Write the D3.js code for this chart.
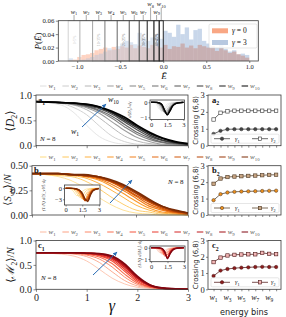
<!DOCTYPE html>
<html>
<head>
<meta charset="utf-8">
<script src="https://cdn.jsdelivr.net/npm/d3@7"></script>
<style>
  body { margin: 0; background: #fff; }
</style>
</head>
<body>
<svg id="fig" width="286" height="317"></svg>
<script>
// ---- data ----
var energyEdges = [-1.10,-1.05,-1.00,-0.95,-0.90,-0.85,-0.80,-0.75,-0.70,-0.65,-0.60,-0.55,-0.50,-0.45,-0.40,-0.35,-0.30,-0.25,-0.20,-0.15,-0.10,-0.05,0.00,0.05,0.10,0.15,0.20,0.25,0.30,0.35,0.40,0.45,0.50,0.55,0.60,0.65,0.70,0.75,0.80,0.85,0.90,0.95,1.00];
var histGamma0 = [0.001,0.002,0.006,0.009,0.010,0.012,0.016,0.018,0.020,0.016,0.021,0.018,0.022,0.020,0.024,0.019,0.023,0.021,0.019,0.024,0.022,0.020,0.024,0.018,0.022,0.021,0.026,0.020,0.023,0.019,0.024,0.022,0.020,0.022,0.015,0.019,0.016,0.012,0.014,0.010,0.008,0.005];
var histGamma3 = [0.004,0.000,0.001,0.002,0.004,0.006,0.009,0.011,0.014,0.019,0.017,0.022,0.026,0.030,0.028,0.025,0.042,0.033,0.030,0.035,0.040,0.033,0.045,0.042,0.036,0.054,0.040,0.050,0.032,0.046,0.048,0.030,0.026,0.021,0.020,0.024,0.018,0.014,0.016,0.010,0.011,0.009];
var windowEdges = [-1.105,-0.969,-0.821,-0.678,-0.535,-0.395,-0.279,-0.186,-0.108,-0.047,0.0];
var windowPct = ["0-5%","","10-15%","","20-25%","","30-35%","","40-45%",""];
var binNames = ["1","2","3","4","5","6","7","8","9","10"];

var gammaGrid = [0,0.5,0.75,1,1.25,1.5,1.75,2,2.25,2.5,2.75,3];
var insetGrid = [0,0.25,0.5,0.75,1,1.25,1.5,1.75,2,2.25,2.5,3];

var D2 = [
  [0.87,0.80,0.65,0.40,0.18,0.07,0.03,0.02,0.01,0.01,0.00,0.00],
  [0.87,0.83,0.75,0.61,0.39,0.19,0.08,0.03,0.02,0.01,0.01,0.00],
  [0.87,0.84,0.80,0.71,0.55,0.36,0.19,0.09,0.04,0.02,0.01,0.00],
  [0.87,0.85,0.81,0.75,0.64,0.47,0.30,0.16,0.08,0.03,0.02,0.01],
  [0.87,0.85,0.82,0.77,0.68,0.54,0.37,0.22,0.12,0.06,0.03,0.01],
  [0.87,0.85,0.83,0.78,0.70,0.58,0.42,0.26,0.15,0.07,0.04,0.02],
  [0.87,0.85,0.83,0.79,0.73,0.62,0.47,0.31,0.18,0.10,0.05,0.02],
  [0.87,0.85,0.84,0.81,0.75,0.65,0.50,0.35,0.21,0.11,0.06,0.03],
  [0.87,0.85,0.84,0.81,0.76,0.66,0.53,0.38,0.24,0.14,0.07,0.04],
  [0.87,0.85,0.84,0.82,0.77,0.68,0.56,0.40,0.26,0.15,0.08,0.04]
];
var SvN = [
  [0.42,0.39,0.35,0.28,0.19,0.11,0.05,0.02,0.01,0.00,0.00,0.00],
  [0.42,0.40,0.39,0.35,0.28,0.19,0.11,0.05,0.03,0.01,0.01,0.00],
  [0.42,0.41,0.40,0.38,0.33,0.26,0.18,0.10,0.05,0.02,0.01,0.00],
  [0.42,0.42,0.41,0.39,0.36,0.30,0.22,0.14,0.07,0.03,0.02,0.01],
  [0.42,0.42,0.41,0.40,0.37,0.32,0.25,0.17,0.09,0.05,0.02,0.01],
  [0.42,0.42,0.41,0.40,0.38,0.34,0.27,0.19,0.11,0.06,0.03,0.01],
  [0.42,0.42,0.41,0.40,0.38,0.34,0.28,0.20,0.13,0.07,0.03,0.02],
  [0.42,0.42,0.41,0.40,0.39,0.35,0.29,0.22,0.14,0.08,0.04,0.02],
  [0.42,0.42,0.41,0.40,0.39,0.35,0.30,0.23,0.15,0.09,0.04,0.02],
  [0.42,0.42,0.41,0.41,0.39,0.36,0.31,0.24,0.16,0.09,0.05,0.02]
];
var M2 = [
  [0.75,0.72,0.68,0.58,0.41,0.23,0.11,0.04,0.02,0.01,0.00,0.00],
  [0.75,0.74,0.72,0.67,0.55,0.36,0.18,0.07,0.03,0.01,0.00,0.00],
  [0.75,0.75,0.73,0.70,0.62,0.46,0.25,0.10,0.04,0.01,0.00,0.00],
  [0.75,0.75,0.74,0.72,0.66,0.53,0.31,0.13,0.05,0.02,0.01,0.00],
  [0.75,0.75,0.75,0.73,0.69,0.58,0.37,0.16,0.05,0.02,0.01,0.00],
  [0.75,0.75,0.75,0.73,0.70,0.61,0.41,0.19,0.07,0.02,0.01,0.00],
  [0.75,0.75,0.75,0.74,0.72,0.64,0.45,0.22,0.07,0.02,0.01,0.00],
  [0.75,0.75,0.75,0.74,0.72,0.65,0.48,0.24,0.09,0.02,0.01,0.00],
  [0.75,0.75,0.75,0.74,0.73,0.67,0.50,0.25,0.08,0.02,0.01,0.00],
  [0.75,0.75,0.75,0.74,0.73,0.68,0.52,0.27,0.09,0.03,0.01,0.00]
];
var dD2 = [
  [0,-0.02,-0.15,-0.45,-0.52,-0.30,-0.12,-0.05,-0.02,-0.01,0,0],
  [0,-0.01,-0.08,-0.30,-0.60,-0.50,-0.25,-0.10,-0.04,-0.02,-0.01,0],
  [0,0,-0.04,-0.18,-0.48,-0.66,-0.45,-0.20,-0.08,-0.03,-0.01,0],
  [0,0,-0.03,-0.12,-0.38,-0.70,-0.58,-0.30,-0.12,-0.05,-0.02,0],
  [0,0,-0.02,-0.09,-0.30,-0.68,-0.66,-0.36,-0.15,-0.06,-0.02,0],
  [0,0,-0.02,-0.07,-0.25,-0.64,-0.73,-0.42,-0.18,-0.07,-0.03,0],
  [0,0,-0.01,-0.06,-0.21,-0.60,-0.78,-0.47,-0.20,-0.08,-0.03,-0.01],
  [0,0,-0.01,-0.05,-0.18,-0.56,-0.82,-0.52,-0.22,-0.09,-0.04,-0.01],
  [0,0,-0.01,-0.04,-0.16,-0.53,-0.84,-0.56,-0.24,-0.10,-0.04,-0.01],
  [0,0,-0.01,-0.04,-0.14,-0.50,-0.85,-0.60,-0.26,-0.11,-0.05,-0.01]
];
var dSvN = [
  [0,-0.05,-0.30,-1.00,-2.00,-1.90,-0.90,-0.35,-0.12,-0.05,-0.02,0],
  [0,-0.02,-0.12,-0.45,-1.30,-2.40,-2.10,-1.00,-0.40,-0.15,-0.05,0],
  [0,0,-0.06,-0.25,-0.75,-1.80,-2.90,-2.00,-0.90,-0.35,-0.12,0],
  [0,0,-0.04,-0.15,-0.50,-1.30,-2.70,-3.10,-1.50,-0.60,-0.20,-0.02],
  [0,0,-0.03,-0.12,-0.38,-1.00,-2.30,-3.40,-2.00,-0.80,-0.30,-0.03],
  [0,0,-0.02,-0.10,-0.30,-0.85,-2.00,-3.50,-2.40,-1.00,-0.35,-0.04],
  [0,0,-0.02,-0.08,-0.25,-0.72,-1.75,-3.40,-2.80,-1.20,-0.40,-0.05],
  [0,0,-0.02,-0.07,-0.22,-0.62,-1.55,-3.20,-3.10,-1.40,-0.50,-0.05],
  [0,0,-0.01,-0.06,-0.20,-0.55,-1.40,-3.00,-3.40,-1.60,-0.55,-0.06],
  [0,0,-0.01,-0.05,-0.18,-0.50,-1.30,-2.90,-3.60,-1.80,-0.60,-0.07]
];
var dM2 = [
  [0,-0.02,-0.12,-0.42,-0.45,-0.25,-0.10,-0.04,-0.01,0,0,0],
  [0,-0.01,-0.06,-0.25,-0.58,-0.40,-0.18,-0.07,-0.03,-0.01,0,0],
  [0,0,-0.03,-0.13,-0.45,-0.62,-0.30,-0.12,-0.05,-0.02,0,0],
  [0,0,-0.02,-0.08,-0.30,-0.75,-0.45,-0.18,-0.07,-0.03,-0.01,0],
  [0,0,-0.01,-0.05,-0.20,-0.68,-0.62,-0.25,-0.10,-0.04,-0.01,0],
  [0,0,-0.01,-0.04,-0.15,-0.58,-0.78,-0.32,-0.12,-0.05,-0.02,0],
  [0,0,0,-0.03,-0.12,-0.50,-0.87,-0.38,-0.14,-0.05,-0.02,0],
  [0,0,0,-0.02,-0.10,-0.44,-0.92,-0.43,-0.16,-0.06,-0.02,0],
  [0,0,0,-0.02,-0.08,-0.38,-0.95,-0.48,-0.18,-0.07,-0.02,0],
  [0,0,0,-0.01,-0.07,-0.33,-0.98,-0.52,-0.20,-0.08,-0.03,0]
];

var crossA_g1 = [0.70,0.88,0.97,0.98,0.98,0.98,0.98,0.98,0.98,0.98];
var crossA_g2 = [1.55,1.95,2.03,2.07,2.07,2.07,2.07,2.07,2.07,2.07];
var crossB_g1 = [0.90,1.27,1.37,1.41,1.43,1.44,1.45,1.46,1.47,1.48];
var crossB_g2 = [1.90,2.22,2.31,2.34,2.36,2.38,2.40,2.42,2.44,2.45];
var crossC_g1 = [0.82,1.15,1.25,1.30,1.33,1.35,1.37,1.38,1.37,1.37];
var crossC_g2 = [1.67,1.95,2.08,2.12,2.14,2.15,2.15,2.24,2.18,2.16];

// ---- helpers ----
var svg = d3.select("#fig");
var serif = '"Liberation Serif", "DejaVu Serif", serif';
var sans = '"DejaVu Sans", "Liberation Sans", sans-serif';

var greyAt = function (i) { return d3.interpolateGreys(0.22 + 0.78 * i / 9); };
var orangeAt = function (i) { return d3.interpolateYlOrBr(0.28 + 0.67 * i / 9); };
var redAt = function (i) { return d3.interpolateReds(0.25 + 0.7 * i / 9); };

// text with italic / subscript parts: parts = [[txt, flags]], flags: i italic, b bold, _ subscript
function rich(g, x, y, parts, fs, fam) {
  var t = g.append("text").attr("x", x).attr("y", y)
    .attr("font-size", fs).attr("font-family", fam || serif).attr("fill", "#111");
  var shift = 0;
  parts.forEach(function (p) {
    var f = p[1] || "";
    var ts = t.append("tspan").text(p[0]);
    if (f.indexOf("i") >= 0) ts.attr("font-style", "italic");
    if (f.indexOf("b") >= 0) ts.attr("font-weight", "bold");
    var want = 0;
    if (f.indexOf("_") >= 0) { want = fs * 0.3; ts.attr("font-size", fs * 0.68); }
    ts.attr("dy", want - shift);
    shift = want;
  });
  return t;
}

function frame(g, x0, y0, x1, y1) {
  g.append("rect").attr("x", x0).attr("y", y0).attr("width", x1 - x0).attr("height", y1 - y0)
    .attr("fill", "none").attr("stroke", "#3a3a3a").attr("stroke-width", 0.8);
}

function tidy(ax, fs) {
  ax.select(".domain").remove();
  ax.selectAll(".tick line").attr("stroke", "#3a3a3a").attr("stroke-width", 0.6);
  ax.selectAll(".tick text").attr("font-family", serif).attr("font-size", fs).attr("fill", "#222");
}

var defs = svg.append("defs");
defs.append("marker").attr("id", "arr").attr("viewBox", "0 0 10 10")
  .attr("refX", 8).attr("refY", 5).attr("markerWidth", 5).attr("markerHeight", 5)
  .attr("orient", "auto")
  .append("path").attr("d", "M0,1 L9,5 L0,9 z").attr("fill", "#2a6db5");

// ---- histogram ----
var xH = d3.scaleLinear().domain([-1.22, 1.105]).range([58.3, 258.3]);
var yH = d3.scaleLinear().domain([0, 0.06]).range([61, 20.7]);
var gH = svg.append("g");

gH.selectAll("rect.g0").data(histGamma0).enter().append("rect")
  .attr("x", function (d, i) { return xH(energyEdges[i]); })
  .attr("width", function (d, i) { return xH(energyEdges[i + 1]) - xH(energyEdges[i]); })
  .attr("y", function (d) { return yH(d); })
  .attr("height", function (d) { return yH(0) - yH(d); })
  .attr("fill", "#fb8f62").attr("fill-opacity", 0.6);
gH.selectAll("rect.g3").data(histGamma3).enter().append("rect")
  .attr("x", function (d, i) { return xH(energyEdges[i]); })
  .attr("width", function (d, i) { return xH(energyEdges[i + 1]) - xH(energyEdges[i]); })
  .attr("y", function (d) { return yH(d); })
  .attr("height", function (d) { return yH(0) - yH(d); })
  .attr("fill", "#7f9fcc").attr("fill-opacity", 0.42);

// energy windows
windowEdges.slice(0, -1).forEach(function (e, i) {
  var xa = xH(e), xb = xH(windowEdges[i + 1]);
  var c = d3.interpolateGreys(0.3 + 0.65 * i / 9);
  gH.append("rect").attr("x", xa).attr("y", yH(0.06)).attr("width", xb - xa).attr("height", yH(0) - yH(0.06))
    .attr("fill", "#fff").attr("fill-opacity", 0.35).attr("stroke", c).attr("stroke-width", 0.9);
  var cx = (xa + xb) / 2;
  if (windowPct[i]) {
    gH.append("text").attr("transform", "translate(" + (cx + 1.5) + ",40) rotate(-90)")
      .attr("text-anchor", "middle").attr("font-family", serif).attr("font-size", 4)
      .attr("fill", c).text(windowPct[i]);
  }
  var high = (i === 7 || i === 9);
  var ly = high ? 6 : 13.5;
  gH.append("line").attr("x1", cx).attr("x2", cx).attr("y1", ly + 1.5).attr("y2", yH(0.06))
    .attr("stroke", "#555").attr("stroke-width", 0.5);
  rich(gH, cx, ly, [["w", "i"], [binNames[i], "_"]], 6.5).attr("text-anchor", "middle");
});

frame(gH, 58.3, 20.7, 258.3, 61);
var axHx = gH.append("g").attr("transform", "translate(0,61)")
  .call(d3.axisBottom(xH).tickValues([-1, -0.5, 0, 0.5, 1]).tickFormat(d3.format(".1f")).tickSize(2).tickPadding(1));
tidy(axHx, 6.5);
var axHy = gH.append("g").attr("transform", "translate(58.3,0)")
  .call(d3.axisLeft(yH).tickValues([0, 0.02, 0.04, 0.06]).tickFormat(d3.format(".2f")).tickSize(2.5).tickPadding(1.5));
tidy(axHy, 6.8);
rich(gH, 164, 78.5, [["Ē", "i"]], 9).attr("text-anchor", "middle");
rich(gH, 0, 0, [["P", "i"], ["(", ""], ["Ē", "i"], [")", ""]], 9)
  .attr("transform", "translate(41,41) rotate(-90)").attr("text-anchor", "middle");

// histogram legend
gH.append("rect").attr("x", 209).attr("y", 24).attr("width", 48).attr("height", 24).attr("rx", 1.5)
  .attr("fill", "#fff").attr("fill-opacity", 0.85).attr("stroke", "#ccc").attr("stroke-width", 0.5);
gH.append("rect").attr("x", 212).attr("y", 28.3).attr("width", 16).attr("height", 5).attr("fill", "#f9a784");
gH.append("rect").attr("x", 212).attr("y", 40).attr("width", 16).attr("height", 5).attr("fill", "#b7c8e0");
rich(gH, 232, 33.2, [["γ", "i"], [" = 0", ""]], 7.5);
rich(gH, 232, 45, [["γ", "i"], [" = 3", ""]], 7.5);

// ---- legend rows ----
function legendRow(y, colorFn) {
  var g = svg.append("g");
  binNames.forEach(function (b, i) {
    var x = 40 + i * 22.4;
    g.append("line").attr("x1", x).attr("x2", x + 6.5).attr("y1", y - 2).attr("y2", y - 2)
      .attr("stroke", colorFn(i)).attr("stroke-width", 1);
    rich(g, x + 8.5, y, [["w", "i"], [b, "_"]], 7).attr("fill", "#555");
  });
}
legendRow(88, greyAt);
legendRow(159, orangeAt);
legendRow(234, redAt);

// ---- left panels ----
function mainPanel(cfg) {
  var g = svg.append("g");
  var x = d3.scaleLinear().domain([0, 3]).range([cfg.x0, cfg.x1]);
  var y = d3.scaleLinear().domain(cfg.yDomain).range([cfg.y1, cfg.y0]);
  var line = d3.line()
    .x(function (d, i) { return x(gammaGrid[i]); })
    .y(function (d) { return y(d); })
    .curve(d3.curveMonotoneX);
  cfg.series.forEach(function (s, i) {
    g.append("path").attr("d", line(s)).attr("fill", "none")
      .attr("stroke", cfg.color(i)).attr("stroke-width", 0.8 + 0.09 * i);
  });
  frame(g, cfg.x0, cfg.y0, cfg.x1, cfg.y1);
  var ax = g.append("g").attr("transform", "translate(0," + cfg.y1 + ")")
    .call(d3.axisBottom(x).tickValues([0, 1, 2, 3]).tickFormat(d3.format("d")).tickSize(2.5).tickPadding(2));
  tidy(ax, 10);
  if (!cfg.xLabels) ax.selectAll(".tick text").remove();
  var ay = g.append("g").attr("transform", "translate(" + cfg.x0 + ",0)")
    .call(d3.axisLeft(y).tickValues(cfg.yTicks).tickFormat(d3.format(cfg.yFmt)).tickSize(2.5).tickPadding(1.5));
  tidy(ay, 10);
  return { g: g, x: x, y: y };
}

function inset(cfg) {
  var g = svg.append("g");
  var x = d3.scaleLinear().domain([-0.1, 3.1]).range([cfg.x0, cfg.x1]);
  var y = d3.scaleLinear().domain(cfg.yDomain).range([cfg.y1, cfg.y0]);
  g.append("rect").attr("x", cfg.x0).attr("y", cfg.y0).attr("width", cfg.x1 - cfg.x0)
    .attr("height", cfg.y1 - cfg.y0).attr("fill", "#fff");
  var line = d3.line()
    .x(function (d, i) { return x(insetGrid[i]); })
    .y(function (d) { return y(d); })
    .curve(d3.curveMonotoneX);
  cfg.series.forEach(function (s, i) {
    g.append("path").attr("d", line(s)).attr("fill", "none")
      .attr("stroke", cfg.color(i)).attr("stroke-width", 0.6 + 0.07 * i);
  });
  frame(g, cfg.x0, cfg.y0, cfg.x1, cfg.y1);
  var ax = g.append("g").attr("transform", "translate(0," + cfg.y1 + ")")
    .call(d3.axisBottom(x).tickValues([0, 1.5, 3]).tickFormat(d3.format("~g")).tickSize(1.5).tickPadding(1));
  tidy(ax, 6.5);
  var ay = g.append("g").attr("transform", "translate(" + cfg.x0 + ",0)")
    .call(d3.axisLeft(y).tickValues(cfg.yTicks).tickFormat(d3.format("d")).tickSize(1.5).tickPadding(1));
  tidy(ay, 6.5);
  g.append("text").attr("transform", "translate(" + cfg.labX + "," + ((cfg.y0 + cfg.y1) / 2) + ") rotate(-90)")
    .attr("text-anchor", "middle").attr("font-family", serif).attr("font-size", 4.6)
    .attr("font-style", "italic").attr("fill", "#333").text(cfg.label);
}

function arrow(x1, y1, x2, y2) {
  svg.append("line").attr("x1", x1).attr("y1", y1).attr("x2", x2).attr("y2", y2)
    .attr("stroke", "#2a6db5").attr("stroke-width", 1).attr("marker-end", "url(#arr)");
}

// a1
var pa = mainPanel({ x0: 36, x1: 188, y0: 95, y1: 145.7, yDomain: [0, 1], yTicks: [0, 0.5, 1], yFmt: ".1f",
  series: D2, color: greyAt, xLabels: false });
inset({ x0: 150, x1: 184.5, y0: 100, y1: 119.5, yDomain: [-1.15, 0.15], yTicks: [0, -1],
  series: dD2, color: greyAt, labX: 131, label: "d⟨D₂⟩/dγ" });
arrow(82, 127, 106, 104);
rich(svg, 71, 134, [["w", "i"], ["1", "_"]], 8);
rich(svg, 108, 102, [["w", "i"], ["10", "_"]], 8);
rich(svg, 40, 141, [["N", "i"], [" = 8", ""]], 7);
rich(svg, 38, 102.5, [["a", "b"], ["1", "b_"]], 8.5);
rich(svg, 0, 0, [["⟨", ""], ["D", "i"], ["2", "_"], ["⟩", ""]], 11.5)
  .attr("transform", "translate(14,121) rotate(-90)").attr("text-anchor", "middle");

// b1
var pb = mainPanel({ x0: 32, x1: 188, y0: 165.7, y1: 215, yDomain: [0, 0.5], yTicks: [0, 0.25, 0.5], yFmt: ".2f",
  series: SvN, color: orangeAt, xLabels: false });
inset({ x0: 64.5, x1: 100, y0: 185, y1: 205, yDomain: [-4.55, 0.9], yTicks: [0, -3],
  series: dSvN, color: orangeAt, labX: 45, label: "(1/N) d⟨S_vN⟩/dγ" });
arrow(110, 203, 132, 180);
rich(svg, 168, 184, [["N", "i"], [" = 8", ""]], 7);
rich(svg, 34, 173, [["b", "b"], ["1", "b_"]], 8.5);
rich(svg, 0, 0, [["⟨", ""], ["S", "i"], ["vN", "i_"], ["⟩/", ""], ["N", "i"]], 10.5)
  .attr("transform", "translate(11,190) rotate(-90)").attr("text-anchor", "middle");

// c1
var pc = mainPanel({ x0: 36, x1: 188, y0: 240.5, y1: 289.3, yDomain: [0, 1], yTicks: [0, 0.5, 1], yFmt: ".1f",
  series: M2, color: redAt, xLabels: true });
inset({ x0: 150, x1: 185, y0: 246, y1: 261.7, yDomain: [-1.24, 0.15], yTicks: [0, -1],
  series: dM2, color: redAt, labX: 140.5, label: "(1/N) d⟨M₂⟩/dγ" });
arrow(93, 275, 117, 252);
rich(svg, 41, 280, [["N", "i"], [" = 8", ""]], 7);
rich(svg, 38, 248, [["c", "b"], ["1", "b_"]], 8.5);
rich(svg, 0, 0, [["⟨", ""], ["ℳ", "i"], ["2", "_"], ["⟩/", ""], ["N", "i"]], 11)
  .attr("transform", "translate(14,265) rotate(-90)").attr("text-anchor", "middle");
rich(svg, 112, 311, [["γ", "i"]], 16).attr("text-anchor", "middle");

// ---- right panels ----
function crossPanel(cfg) {
  var g = svg.append("g");
  var x = d3.scaleLinear().domain([0.2, 10.7]).range([208, 281]);
  var y = d3.scaleLinear().domain([0, 3]).range([cfg.y1, cfg.y0]);
  var line = d3.line().x(function (d, i) { return x(i + 1); }).y(function (d) { return y(d); });
  [cfg.g1, cfg.g2].forEach(function (s) {
    g.append("path").attr("d", line(s)).attr("fill", "none").attr("stroke", cfg.lineColor).attr("stroke-width", 0.8);
  });
  g.selectAll("circle").data(cfg.g1).enter().append("circle")
    .attr("cx", function (d, i) { return x(i + 1); }).attr("cy", function (d) { return y(d); })
    .attr("r", 1.7).attr("fill", cfg.c1).attr("stroke", cfg.edge).attr("stroke-width", 0.5);
  g.selectAll("rect.sq").data(cfg.g2).enter().append("rect")
    .attr("x", function (d, i) { return x(i + 1) - 1.7; }).attr("y", function (d) { return y(d) - 1.7; })
    .attr("width", 3.4).attr("height", 3.4).attr("fill", cfg.c2).attr("stroke", cfg.edge).attr("stroke-width", 0.6);
  frame(g, 208, cfg.y0, 281, cfg.y1);
  var ax = g.append("g").attr("transform", "translate(0," + cfg.y1 + ")")
    .call(d3.axisBottom(x).tickValues([1, 2, 3, 4, 5, 6, 7, 8, 9, 10]).tickSize(2).tickFormat(""));
  tidy(ax, 8);
  var ay = g.append("g").attr("transform", "translate(208,0)")
    .call(d3.axisLeft(y).tickValues([0, 1, 2, 3]).tickFormat(d3.format("d")).tickSize(2).tickPadding(1.2));
  tidy(ay, 8.5);
  g.append("text").attr("transform", "translate(197.5," + ((cfg.y0 + cfg.y1) / 2) + ") rotate(-90)")
    .attr("text-anchor", "middle").attr("font-family", sans).attr("font-size", 7).attr("fill", "#222")
    .text("Crossing (6,8)");
  rich(g, 212, cfg.y0 + 7.5, [[cfg.tag, "b"], ["2", "b_"]], 8.5);
  // legend
  var ly = cfg.y1 - 7;
  g.append("rect").attr("x", 211).attr("y", ly - 4.5).attr("width", 68).attr("height", 9).attr("rx", 1.2)
    .attr("fill", "#fff").attr("fill-opacity", 0.85).attr("stroke", "#ccc").attr("stroke-width", 0.5);
  g.append("line").attr("x1", 214).attr("x2", 230).attr("y1", ly).attr("y2", ly).attr("stroke", cfg.lineColor).attr("stroke-width", 0.8);
  g.append("circle").attr("cx", 222).attr("cy", ly).attr("r", 1.7).attr("fill", cfg.c1).attr("stroke", cfg.edge).attr("stroke-width", 0.5);
  rich(g, 235, ly + 2, [["γ", "i"], ["1", "_"]], 6);
  g.append("line").attr("x1", 252).attr("x2", 268).attr("y1", ly).attr("y2", ly).attr("stroke", cfg.lineColor).attr("stroke-width", 0.8);
  g.append("rect").attr("x", 258.3).attr("y", ly - 1.7).attr("width", 3.4).attr("height", 3.4)
    .attr("fill", cfg.c2).attr("stroke", cfg.edge).attr("stroke-width", 0.6);
  rich(g, 271, ly + 2, [["γ", "i"], ["2", "_"]], 6);
  return { g: g, x: x };
}

crossPanel({ y0: 95, y1: 145.7, g1: crossA_g1, g2: crossA_g2, tag: "a",
  lineColor: "#444", c1: "#444", c2: "#fff", edge: "#333" });
crossPanel({ y0: 165.7, y1: 215, g1: crossB_g1, g2: crossB_g2, tag: "b",
  lineColor: "#5b4630", c1: "#ec8f1c", c2: "#c9a684", edge: "#4a3520" });
var pc2 = crossPanel({ y0: 240.5, y1: 289.3, g1: crossC_g1, g2: crossC_g2, tag: "c",
  lineColor: "#5a2424", c1: "#8c1c1c", c2: "#f3b7b7", edge: "#4a1515" });

[1, 3, 5, 7, 9].forEach(function (k) {
  rich(svg, pc2.x(k), 300, [["w", "i"], [binNames[k - 1], "_"]], 8).attr("text-anchor", "middle");
});
svg.append("text").attr("x", 244).attr("y", 314.5).attr("text-anchor", "middle")
  .attr("font-family", sans).attr("font-size", 8.2).attr("fill", "#222").text("energy bins");
</script>
</body>
</html>
